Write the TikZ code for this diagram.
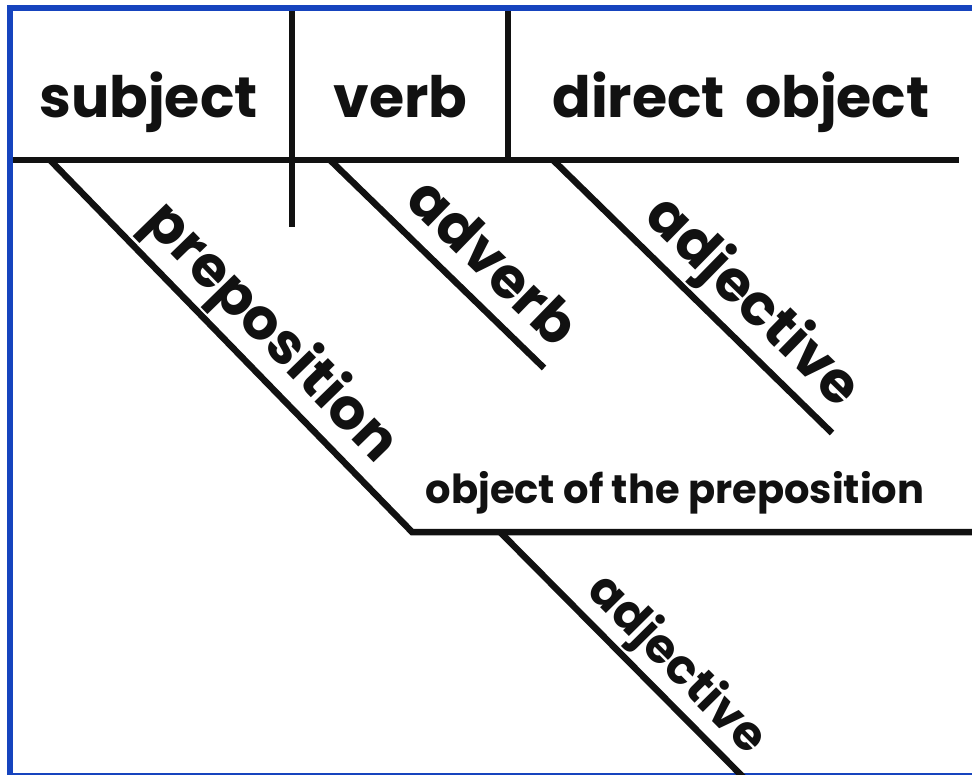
\documentclass[tikz,border=0pt]{standalone}
\usepackage{fontspec}
\setmainfont{Poppins}
\definecolor{frameblue}{RGB}{22,68,190}
\definecolor{ink}{RGB}{17,17,17}
\tikzset{
  diag/.style={draw=ink, line width=6.5pt},
  bigword/.style={font=\fontsize{57}{60}\selectfont\bfseries, text=ink, inner sep=0pt},
  smallword/.style={font=\fontsize{40}{44}\selectfont\bfseries, text=ink, inner sep=0pt},
  slopeword/.style={bigword, sloped, anchor=south, text depth=12pt, outer sep=9pt},
  lowword/.style={slopeword, font=\fontsize{48}{52}\selectfont\bfseries, text depth=10pt, outer sep=8pt},
}
\begin{document}
\begin{tikzpicture}[x=1pt,y=-1pt]
\useasboundingbox (0,0) rectangle (972,775);
\fill[white] (0,0) rectangle (972,775);
% frame
\draw[frameblue, line width=6pt] (10,778) -- (10,8) -- (975,8);
\draw[frameblue, line width=2.5pt] (10,774) -- (975,774);
% coordinates
\coordinate (mainL) at (13,160);
\coordinate (mainR) at (959,160);
\coordinate (s1top) at (292,11);
\coordinate (s1bot) at (292,227);
\coordinate (s2top) at (508,11);
\coordinate (s2bot) at (508,160);
\coordinate (prepA) at (50,160);
\coordinate (corner) at (412,532);
\coordinate (oopR) at (975,532);
\coordinate (advA) at (330,160);
\coordinate (advB) at (544,368);
\coordinate (adj1A) at (553,160);
\coordinate (adj1B) at (832,433);
\coordinate (adj2A) at (500,532);
\coordinate (adj2B) at (746,780);
% lines
\draw[diag] (mainL) -- (mainR);
\draw[diag] (s1top) -- (s1bot);
\draw[diag] (s2top) -- (s2bot);
\draw[diag, line join=miter] (prepA) -- node[slopeword, pos=0.535] (lprep) {preposition} (corner) -- (oopR);
\draw[diag] (advA) -- node[slopeword, pos=0.63] (ladv) {adverb} (advB);
\draw[diag] (adj1A) -- node[slopeword, pos=0.62] (ladj1) {adjective} (adj1B);
\draw[diag] (adj2A) -- node[lowword, pos=0.625] (ladj2) {adjective} (adj2B);
% horizontal labels
\node[bigword, anchor=base] (subj) at (148.5,118) {subject};
\node[bigword, anchor=base] (verb) at (400.5,118) {verb};
\node[bigword, anchor=base] (dobj) at (741,118) {direct\hspace{0.35em}object};
\node[smallword, anchor=base] (oop) at (675,503) {object of the preposition};
\end{tikzpicture}
\end{document}
